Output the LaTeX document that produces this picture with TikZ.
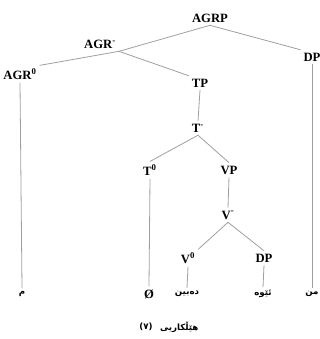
\documentclass[tikz,border=0pt]{standalone}
\usepackage{fontspec}
\usetikzlibrary{positioning}
\setmainfont{Liberation Serif}
\newfontfamily\arabicfont[Script=Arabic]{DejaVu Sans}
\TeXXeTstate=1
\tikzset{every picture/.style={line width=0.6pt}}

\begin{document}
\begin{tikzpicture}[x=0.75pt,y=0.75pt,yscale=-1,xscale=1,
  lbl/.style={font=\bfseries\fontsize{9.5}{11}\selectfont, inner sep=2pt},
  word/.style={font=\arabicfont\bfseries\fontsize{6.5}{8}\selectfont, inner sep=2pt},
  branch/.style={draw=gray!75}]
%set diagram left start at 0, and has height of 339
\useasboundingbox (0,0) rectangle (320,339);

% Text Node
\node [lbl] (agrp) at (210,18) {AGRP};
% Text Node
\node [lbl] (agr) at (100,44) {AGR\textsuperscript{-}};
% Text Node
\node [lbl] (dp) at (312,57) {DP};
% Text Node
\node [lbl] (agr0) at (20,74) {AGR\textsuperscript{0}};
% Text Node
\node [lbl] (tp) at (200,83) {TP};
% Text Node
\node [lbl] (tbar) at (198,128) {T\textsuperscript{-}};
% Text Node
\node [lbl] (t0) at (150,170) {T\textsuperscript{0}};
% Text Node
\node [lbl] (vp) at (229,170) {VP};
% Text Node
\node [lbl] (vbar) at (228,215) {V\textsuperscript{-}};
% Text Node
\node [lbl] (v0) at (188,258) {V\textsuperscript{0}};
% Text Node
\node [lbl] (dpb) at (264,258) {DP};

% Text Node
\node [word] (m) at (22,294) {\beginR م\endR};
% Text Node
\node [lbl] (null) at (149,294) {Ø};
% Text Node
\node [word] (dabin) at (187,294) {\beginR دەبین\endR};
% Text Node
\node [word] (ewe) at (263,294) {\beginR ئێوە\endR};
% Text Node
\node [word] (min) at (312,294) {\beginR من\endR};

% Text Node
\node [word] (capnum) at (146,327) {(٧)};
\node [word, right=1pt of capnum] (caption) {\beginR هێڵکاریی\endR};

%Straight Lines
\draw [branch] (agrp.south) -- (agr.south east);
\draw [branch] (agr.south east) -- (agr0.north east);
\draw [branch] (agr.south east) -- (tp.north west);
\draw [branch] (agrp.south) -- (dp.north west);
\draw [branch] (agr0.south) -- (m.north);
\draw [branch] (dp.south) -- (min.north);
\draw [branch] (tp.south) -- (tbar.north);
\draw [branch] (tbar.south) -- (t0.north);
\draw [branch] (tbar.south) -- (vp.north);
\draw [branch] (t0.south) -- (null.north);
\draw [branch] (vp.south) -- (vbar.north);
\draw [branch] (vbar.south) -- (v0.north east);
\draw [branch] (vbar.south) -- (dpb.north);
\draw [branch] (v0.south) -- (dabin.north);
\draw [branch] (dpb.south) -- (ewe.north);

\end{tikzpicture}
\end{document}
